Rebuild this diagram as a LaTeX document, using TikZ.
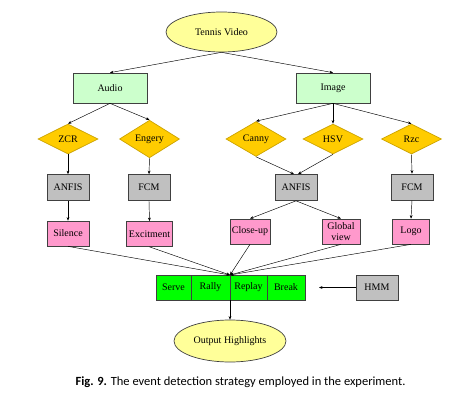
\documentclass[tikz,border=0pt]{standalone}
\usepackage{fontspec}
\setmainfont{Liberation Serif}
\newfontfamily\capfont{Carlito}
\usetikzlibrary{shapes.geometric,arrows.meta}
\definecolor{yelfill}{HTML}{FFFF99}
\definecolor{lgreen}{HTML}{CCFFCC}
\definecolor{gold}{HTML}{FFCC00}
\definecolor{grayfill}{HTML}{C0C0C0}
\definecolor{pinkfill}{HTML}{FF99CC}
\definecolor{brgreen}{HTML}{00FF00}
\begin{document}
\begin{tikzpicture}[x=1pt,y=-1pt,
  base/.style={draw=black!75,line width=0.7pt,inner sep=0pt,font=\fontsize{10}{10.5}\selectfont,align=center},
  ell/.style={base,ellipse,fill=yelfill},
  srcbox/.style={base,rectangle,fill=lgreen,minimum width=74pt,minimum height=30pt},
  feat/.style={base,diamond,fill=gold,draw=gold!80!black,minimum width=60pt,minimum height=30pt},
  proc/.style={base,rectangle,fill=grayfill,minimum width=42pt,minimum height=26pt},
  evt/.style={base,rectangle,fill=pinkfill,minimum height=25pt},
  cell/.style={base,rectangle,fill=brgreen,minimum height=25pt},
  arr/.style={-{Stealth[length=3.5pt,width=2.8pt]},line width=0.45pt}
]
\useasboundingbox (0,0) rectangle (464,407);

\node[ell,minimum width=111pt,minimum height=40pt] (tv) at (221.5,32) {Tennis Video};
\node[srcbox] (audio) at (110,88) {Audio};
\node[srcbox] (image) at (333,88) {Image};

\node[feat] (zcr) at (68,139) {ZCR};
\node[feat] (eng) at (149.5,139) {Engery};
\node[feat] (canny) at (256,139) {Canny};
\node[feat] (hsv) at (333,139) {HSV};
\node[feat] (rzc) at (411.5,139) {Rzc};

\node[proc] (anfisA) at (68,187.5) {ANFIS};
\node[proc] (fcmA) at (149,187.5) {FCM};
\node[proc] (anfisB) at (296,187.5) {ANFIS};
\node[proc] (fcmB) at (412,187) {FCM};

\node[evt,minimum width=42pt] (silence) at (68,233.5) {Silence};
\node[evt,minimum width=46pt] (excit) at (149.5,234) {Excitment};
\node[evt,minimum width=40pt] (closeup) at (250,231.5) {Close-up};
\node[evt,minimum width=38pt] (global) at (341,231.5) {Global\\view};
\node[evt,minimum width=37pt] (logo) at (411,231.5) {Logo};

\node[cell,minimum width=35pt] (serve) at (173.5,287.5) {Serve};
\node[cell,minimum width=39pt] (rally) at (210.5,287.5) {Rally};
\node[cell,minimum width=37pt] (replay) at (248.5,287.5) {Replay};
\node[cell,minimum width=38pt] (break) at (286,287.5) {Break};
\node[proc,minimum height=25pt] (hmm) at (377,287.5) {HMM};
\coordinate (hmmend) at (319,287.5);
\coordinate (conv) at (230,275);
\coordinate (convb) at (230,300);

\node[ell,minimum width=112pt,minimum height=42pt] (out) at (230,341) {Output Highlights};

\draw[arr] (tv.south) -- (audio.north);
\draw[arr] (tv.south) -- (image.north);
\draw[arr] (audio.south) -- (zcr.north);
\draw[arr] (audio.south) -- (eng.north);
\draw[arr] (image.south) -- (canny.north);
\draw[arr] (image.south) -- (hsv.north);
\draw[arr] (image.south) -- (rzc.north);
\draw[arr] (zcr.south) -- (anfisA.north);
\draw[arr] (eng.south) -- (fcmA.north);
\draw[arr] (canny.south) -- ([xshift=-2pt]anfisB.north);
\draw[arr] (hsv.south) -- ([xshift=2pt]anfisB.north);
\draw[arr] (rzc.south) -- (fcmB.north);
\draw[arr] (anfisA.south) -- (silence.north);
\draw[arr] (fcmA.south) -- (excit.north);
\draw[arr] (anfisB.south) -- (closeup.north);
\draw[arr] (anfisB.south) -- (global.north);
\draw[arr] (fcmB.south) -- (logo.north);
\draw[arr] (silence.south) -- (conv);
\draw[arr] (excit.south) -- (conv);
\draw[arr] (closeup.south) -- (conv);
\draw[arr] (global.south) -- (conv);
\draw[arr] (logo.south) -- (conv);
\draw[arr] (hmm.west) -- (hmmend);
\draw[arr] (convb) -- (out.north);

\node[font=\capfont\fontsize{12.5}{14}\selectfont,inner sep=0pt] (cap) at (240.5,382) {\textbf{Fig. 9.} The event detection strategy employed in the experiment.};
\end{tikzpicture}
\end{document}
